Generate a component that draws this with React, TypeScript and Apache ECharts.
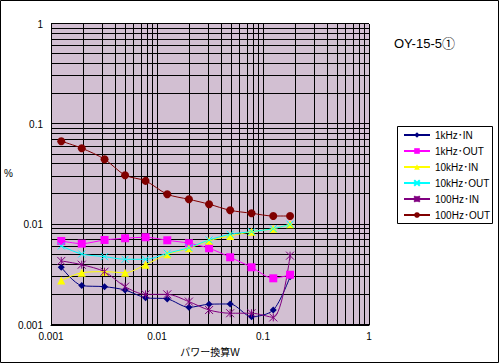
import React, { useEffect, useRef } from "react";
import * as echarts from "echarts";

// Power (W) at each measurement point
const POWER_W = [0.00125, 0.00195, 0.0032, 0.005, 0.0078, 0.0125, 0.02, 0.031, 0.049, 0.078, 0.125, 0.18];

// Distortion (%) per series
const KHZ1_IN = [0.00376, 0.00247, 0.00241, 0.00223, 0.00187, 0.00182, 0.0015, 0.00161, 0.00162, 0.00121, 0.00141, 0.00303];
const KHZ1_OUT = [0.00688, 0.00647, 0.00704, 0.00732, 0.00749, 0.00699, 0.00653, 0.00582, 0.00473, 0.00376, 0.00292, 0.00317];
const KHZ10_IN = [0.00277, 0.00332, 0.0034, 0.00332, 0.00399, 0.00507, 0.00582, 0.00693, 0.00772, 0.0085, 0.0091, 0.0101];
const KHZ10_OUT = [0.00613, 0.0051, 0.0048, 0.00452, 0.00452, 0.00519, 0.0059, 0.00704, 0.00802, 0.00852, 0.00912, 0.0101];
const HZ100_IN = [0.00435, 0.00399, 0.0034, 0.00241, 0.00202, 0.00202, 0.00171, 0.00141, 0.00131, 0.00131, 0.00119, 0.00491];
const HZ100_OUT = [0.0679, 0.0578, 0.0449, 0.0311, 0.0273, 0.0201, 0.0179, 0.016, 0.0139, 0.013, 0.0122, 0.0122];

const SERIES_NAMES = ["1kHz･IN", "1kHz･OUT", "10kHz･IN", "10kHz･OUT", "100Hz･IN", "100Hz･OUT"];
const SERIES_VALUES = [KHZ1_IN, KHZ1_OUT, KHZ10_IN, KHZ10_OUT, HZ100_IN, HZ100_OUT];
const SERIES_COLORS = ["#000080", "#ff00ff", "#ffff00", "#00ffff", "#800080", "#800000"];
const SERIES_SYMBOLS = [
  "diamond",
  "rect",
  "triangle",
  "path://M0 0L10 10M10 0L0 10",
  "path://M0 0L10 10M10 0L0 10M5 0L5 10",
  "circle",
];
const SERIES_SYMBOL_SIZES = [7, 8, 8, 7, 8, 8];

const TITLE = "OY-15-5①";
const X_NAME = "パワー換算W";
const Y_NAME = "%";

const AXIS_MIN = 0.001;
const AXIS_MAX = 1;
const GRID_DECADES = [0.001, 0.01, 0.1];
const GRID_MULTIPLIERS = [1, 2, 3, 4, 5, 6, 7, 8, 9];

const FONT = "'Liberation Sans', 'Noto Sans CJK JP', sans-serif";

export default function App() {
  const ref = useRef<HTMLDivElement>(null);

  useEffect(() => {
    document.body.style.margin = "0";
    const chart = echarts.init(ref.current!, null, { renderer: "svg" });

    const gridVals: number[] = [];
    GRID_DECADES.forEach((d) => GRID_MULTIPLIERS.forEach((m) => gridVals.push(+(m * d).toPrecision(3))));
    gridVals.push(AXIS_MAX);

    const dataSeries = SERIES_NAMES.map((name, i) => {
      const isPath = SERIES_SYMBOLS[i].startsWith("path://");
      return {
        type: "line",
        name,
        z: 3,
        data: POWER_W.map((x, j) => [x, SERIES_VALUES[i][j]]),
        symbol: SERIES_SYMBOLS[i],
        symbolSize: SERIES_SYMBOL_SIZES[i],
        smooth: 0.3,
        lineStyle: { color: SERIES_COLORS[i], width: 1 },
        itemStyle: isPath
          ? { color: "none", borderColor: SERIES_COLORS[i], borderWidth: 1 }
          : { color: SERIES_COLORS[i], borderWidth: 0 },
        emphasis: { disabled: true },
      };
    });

    const vGridSeries = {
      type: "custom",
      data: gridVals.map((v) => [v, AXIS_MIN]),
      renderItem: (_p: any, api: any) => {
        const v = api.value(0);
        const b = api.coord([v, AXIS_MIN]);
        const t = api.coord([v, AXIS_MAX]);
        return {
          type: "rect",
          shape: { x: Math.round(b[0]), y: t[1], width: 1, height: b[1] - t[1] },
          style: { fill: "#000" },
        };
      },
    };

    const hGridSeries = {
      type: "custom",
      data: gridVals.map((v) => [AXIS_MIN, v]),
      renderItem: (_p: any, api: any) => {
        const v = api.value(1);
        const l = api.coord([AXIS_MIN, v]);
        const r = api.coord([AXIS_MAX, v]);
        return {
          type: "rect",
          shape: { x: l[0], y: Math.round(l[1]) - 1, width: r[0] - l[0], height: 1 },
          style: { fill: "#000" },
        };
      },
    };

    chart.setOption({
      animation: false,
      backgroundColor: "#ffffff",
      grid: {
        left: 51,
        top: 24,
        right: 130,
        bottom: 38,
        show: true,
        backgroundColor: "#d2bfd2",
        borderWidth: 0,
        outerBoundsMode: "none",
      },
      xAxis: {
        type: "log",
        min: AXIS_MIN,
        max: AXIS_MAX,
        axisLine: { show: true, lineStyle: { color: "#000", width: 1 } },
        axisTick: { show: false },
        splitLine: { show: false },
        axisLabel: { color: "#000", fontSize: 10, fontFamily: FONT, margin: 6 },
      },
      yAxis: {
        type: "log",
        min: AXIS_MIN,
        max: AXIS_MAX,
        axisLine: { show: true, lineStyle: { color: "#000", width: 1 } },
        axisTick: { show: false },
        splitLine: { show: false },
        axisLabel: { color: "#000", fontSize: 10, fontFamily: FONT, margin: 8 },
      },
      legend: {
        data: SERIES_NAMES,
        orient: "vertical",
        left: 403,
        top: 129,
        padding: 0,
        itemWidth: 26,
        itemHeight: 7,
        itemGap: 4,
        selectedMode: false,
        textStyle: { color: "#000", fontSize: 10, fontFamily: FONT, lineHeight: 12 },
      },
      graphic: [
        {
          type: "rect",
          z: 100,
          silent: true,
          shape: { x: 0.5, y: 0.5, width: 498, height: 362 },
          style: { fill: "none", stroke: "#000", lineWidth: 1 },
        },
        {
          type: "rect",
          z: 100,
          silent: true,
          shape: { x: 397.5, y: 126.5, width: 95, height: 97 },
          style: { fill: "none", stroke: "#000", lineWidth: 1 },
        },
        {
          type: "text",
          x: 394,
          y: 43,
          style: { text: TITLE, fill: "#000", font: `13px ${FONT}`, verticalAlign: "middle", align: "left" },
        },
        {
          type: "text",
          x: 4,
          y: 173,
          style: { text: Y_NAME, fill: "#000", font: `10px ${FONT}`, verticalAlign: "middle", align: "left" },
        },
        {
          type: "text",
          x: 210,
          y: 352,
          style: { text: X_NAME, fill: "#000", font: `10px ${FONT}`, verticalAlign: "middle", align: "center" },
        },
      ],
      series: [vGridSeries, hGridSeries, ...dataSeries],
    });

    return () => chart.dispose();
  }, []);

  return <div ref={ref} style={{ width: 499, height: 363 }} />;
}
